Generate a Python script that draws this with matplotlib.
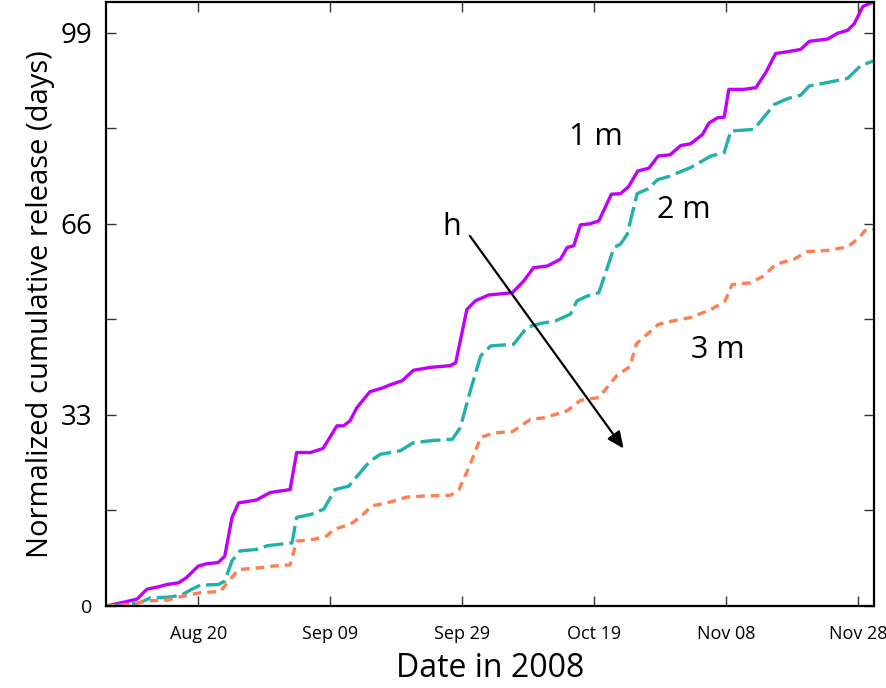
import numpy as np
import matplotlib
matplotlib.use('Agg')
import matplotlib.pyplot as plt
import matplotlib.dates as mdates
from matplotlib.ticker import FixedLocator, MultipleLocator

plt.rcParams['font.family'] = ['Open Sans', 'DejaVu Sans']

# days after 2008-08-06
start = '2008-08-06'
d1 = [0, 3.1, 4.7, 6.2, 7.9, 9.2, 11, 12.2, 14, 15.3, 17, 18, 19.1, 20.1, 22.8, 24.9, 26.7, 27.9, 28.9, 31,
      32.9, 35, 36, 37, 38, 40, 41.8, 43.1, 44.9, 46.6, 49.2, 52.2, 53, 54.7, 56, 58, 61.6, 63.3, 64.8, 66.9,
      68.9, 69.9, 70.9, 71.9, 73.4, 74.7, 76.6, 78, 79.2, 80.6, 82.3, 83.7, 85.5, 87.1, 88.6, 90.4, 91.4, 92.7,
      93.7, 94.4, 96.7, 98.5, 100, 101.5, 103.3, 105.3, 106.6, 109.4, 110.9, 112.4, 113.4, 114.7, 116.3]
v1 = [0, 0.75, 1.2, 2.9, 3.3, 3.7, 4.0, 4.9, 6.9, 7.3, 7.5, 8.6, 15.3, 17.8, 18.3, 19.6, 19.9, 20.1, 26.5, 26.5,
      27.2, 31.1, 31.1, 32, 34.2, 37.0, 37.6, 38.2, 38.9, 40.7, 41.2, 41.5, 42.0, 51.2, 52.7, 53.7, 54.1, 56.1, 58.4, 58.7,
      59.9, 61.9, 62.2, 65.8, 66.0, 66.5, 71.1, 71.2, 72.4, 75.1, 75.6, 77.7, 77.9, 79.5, 79.8, 81.4, 83.4, 84.3,
      84.4, 89.2, 89.2, 89.5, 92.1, 95.4, 95.7, 96.1, 97.5, 97.9, 98.9, 99.4, 100.5, 103.5, 104.3]

d2 = [0, 2, 5.2, 6.7, 9.7, 11.5, 13, 14.3, 17, 18, 19.1, 20.3, 23.1, 24.4, 28.2, 28.9, 31, 33, 34.7, 36.8,
      38.5, 40, 41.6, 44.6, 46.6, 49.7, 52.5, 53.7, 55.2, 56.8, 58.3, 61.8, 63.8, 65.9, 68.1, 70.4, 71.4, 72.9, 74.7, 75.3,
      77, 78, 79, 80.5, 82.1, 83.6, 85.4, 88.6, 91.7, 93.7, 94.7, 98.2, 101.3, 103.3, 105.3, 106.6, 109.4, 112.4, 114.4, 116.3]
v2 = [0, 0.1, 0.6, 1.4, 1.55, 1.9, 2.9, 3.6, 3.7, 4.3, 7.8, 9.5, 9.8, 10.4, 10.9, 15.3, 15.8, 16.7, 20.1, 20.7,
      23.0, 25.0, 26.2, 26.8, 28.2, 28.6, 28.8, 30.8, 37.1, 43.2, 44.9, 45.2, 48.1, 48.8, 49.2, 50.4, 52.7, 53.5, 54.1, 56.1,
      61.9, 62.5, 64.2, 71.2, 72.0, 73.6, 74.2, 75.7, 77.7, 78.3, 82.0, 82.3, 86.6, 87.6, 88.2, 89.8, 90.4, 91.1, 93.3, 94.1]

d3 = [0, 4.1, 6.2, 9.2, 11.7, 14.3, 17.3, 18.6, 20.1, 23.4, 25.4, 27.9, 28.9, 31.5, 33.5, 34.5, 37, 38.5, 40.3, 42.6,
      45.6, 48.2, 52.2, 53.5, 55, 56.8, 58.8, 61.6, 64.3, 66.4, 69.9, 71.9, 74.7, 76, 77.5, 79.4, 80.4, 82, 83.7, 85.8,
      88.6, 91.7, 93.8, 94.9, 97.7, 99.7, 101.5, 104.3, 106.3, 109.4, 112.4, 114.2, 115, 116.3]
v3 = [0, 0.3, 0.9, 1.0, 1.7, 2.3, 2.5, 4.3, 6.3, 6.6, 6.9, 7.1, 11.2, 11.5, 12.1, 13.2, 14.1, 15.3, 17.3, 17.8,
      18.8, 19.0, 19.1, 20.1, 23.9, 29.1, 29.9, 30.1, 32.2, 32.5, 33.7, 35.5, 36.0, 37.8, 39.9, 41.3, 45.3, 46.9, 48.6, 49.2,
      49.8, 51.2, 52.6, 55.5, 55.8, 57.0, 59.0, 59.9, 61.2, 61.4, 62.0, 63.6, 64.8, 65.0]

tick_dates = ['2008-08-20', '2008-09-09', '2008-09-29', '2008-10-19', '2008-11-08', '2008-11-28']
yticks = [0, 33, 66, 99]

t0 = mdates.datestr2num(start)

fig = plt.figure(figsize=(8.87, 6.88), dpi=100)
ax = fig.add_axes([0.1195, 0.1192, 0.8658, 0.878])

ax.plot(t0 + np.array(d1), v1, color='#BF00FF', lw=2.4, solid_joinstyle='round')
ax.plot(t0 + np.array(d2), v2, color='#20B2AA', lw=2.4, dashes=(6, 1.8))
ax.plot(t0 + np.array(d3), v3, color='#FF7F50', lw=2.4, dashes=(2.6, 1.8))

ax.set_xlim(t0, t0 + 116.4)
ax.set_ylim(0, 104.3)

ax.xaxis.set_major_locator(FixedLocator([mdates.datestr2num(d) for d in tick_dates]))
ax.xaxis.set_major_formatter(mdates.DateFormatter('%b %d'))
ax.set_yticks(yticks)
ax.yaxis.set_minor_locator(MultipleLocator(16.5))

ax.tick_params(which='both', direction='in', top=True, right=True, length=7, width=1, color='#333333')
ax.tick_params(axis='x', labelsize=13, pad=14)
ax.tick_params(axis='y', labelsize=20, pad=10)
ax.get_yticklabels()[0].set_fontsize(14)
for s in ax.spines.values():
    s.set_linewidth(1.6)

ax.set_xlabel('Date in 2008', fontsize=23, labelpad=6)
ax.set_ylabel('Normalized cumulative release (days)', fontsize=21, labelpad=4)

ax.text(t0 + 74.3, 80.9, '1 m', fontsize=22, ha='center', va='center')
ax.text(t0 + 87.6, 68.4, '2 m', fontsize=22, ha='center', va='center')
ax.text(t0 + 92.8, 44.2, '3 m', fontsize=22, ha='center', va='center')
ax.text(t0 + 52.4, 65.4, 'h', fontsize=22, ha='center', va='center')
ax.annotate('', xy=(t0 + 78.7, 26.8), xytext=(t0 + 54.9, 64.3),
            arrowprops=dict(arrowstyle='-|>,head_length=1.0,head_width=0.45', color='black', lw=1.6))

fig.savefig('out.png', dpi=100)
